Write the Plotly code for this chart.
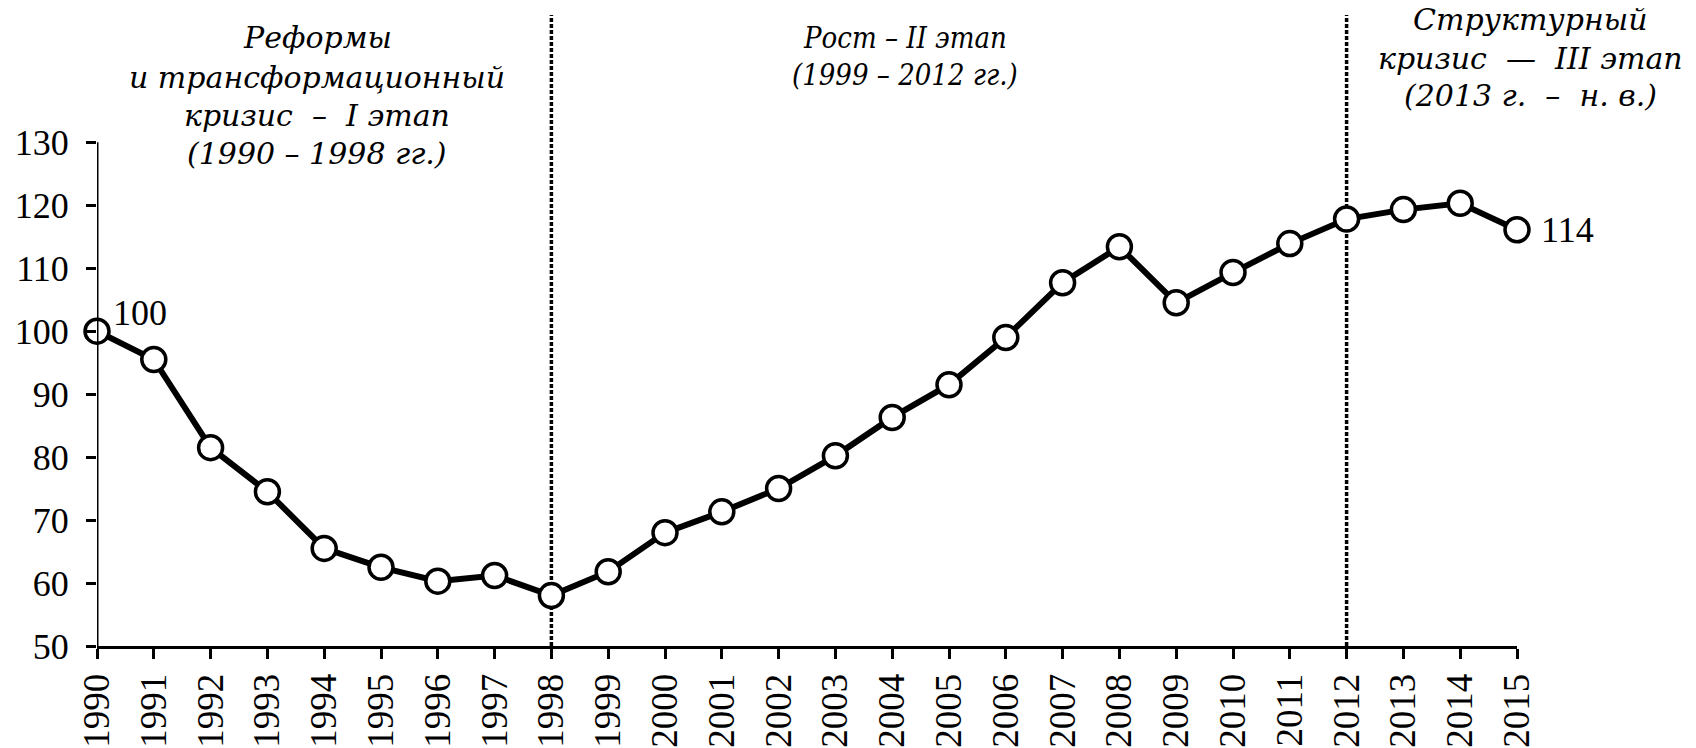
import plotly.graph_objects as go

years = list(range(1990, 2016))
values = [100, 95.5, 81.5, 74.5, 65.5, 62.5, 60.3, 61.2, 58.0, 61.8,
          68.0, 71.3, 75.0, 80.2, 86.3, 91.5, 99.0, 107.7, 113.4, 104.5,
          109.3, 113.9, 117.8, 119.3, 120.3, 116.1]
year_labels = [str(y) for y in years]
y_ticks = [50, 60, 70, 80, 90, 100, 110, 120, 130]
stage_bounds = [1998, 2012]
label_first = "100"
label_last = "114"

stage1 = ["Реформы", "и трансформационный", "кризис  –  I этап", "(1990 – 1998 гг.)"]
stage2 = ["Рост – II этап", "(1999 – 2012 гг.)"]
stage3 = ["Структурный", "кризис  —  III этап", "(2013 г.  –  н. в.)"]

# page geometry (pixels)
W, H = 1696, 748
L, R, T, B = 97, 179, 0, 94
PW, PH = W - L - R, H - T - B
Y130_PIX = 144  # pixel row of the 130 tick


def px(xpix):
    return (xpix - L) / PW


def py(ypix):
    return (H - B - ypix) / PH


fig = go.Figure()
fig.add_trace(go.Scatter(
    x=years, y=values, mode="lines+markers",
    line=dict(color="black", width=6),
    marker=dict(symbol="circle", size=24, color="white",
                line=dict(color="black", width=3.5)),
    cliponaxis=False, showlegend=False, hoverinfo="x+y"))

for b in stage_bounds:
    fig.add_shape(type="line", xref="x", yref="y", x0=b, x1=b, y0=50, y1=150.2,
                  line=dict(color="black", width=3.5, dash="4px,2px"), layer="below")

fig.add_shape(type="line", xref="x", yref="y", x0=1990, x1=1990, y0=50, y1=130,
              line=dict(color="black", width=3))

tick_font = dict(family="Liberation Serif", size=36, color="black")
xtick_font = dict(family="Liberation Serif", size=37, color="black")
ital1 = dict(family="DejaVu Serif", size=30, color="black", style="italic")
ital2 = dict(family="DejaVu Serif Condensed", size=29, color="black", style="italic")
ital3 = dict(family="DejaVu Serif", size=30, color="black", style="italic")


def block(lines, xc, ys, font):
    for t, yy in zip(lines, ys):
        fig.add_annotation(x=px(xc), y=py(yy), xref="paper", yref="paper", text=t,
                           showarrow=False, xanchor="center", yanchor="middle", font=font)


block(stage1, 317, [38, 78, 117, 155], ital1)
block(stage2, 905, [38, 76], ital2)
block(stage3, 1530, [20, 59, 97], ital3)

fig.add_annotation(x=years[0], y=values[0], text=label_first, showarrow=False,
                   xanchor="left", yanchor="middle", xshift=14, yshift=18, font=tick_font)
fig.add_annotation(x=years[-1], y=values[-1], text=label_last, showarrow=False,
                   xanchor="left", yanchor="middle", xshift=22, yshift=0, font=tick_font)

y_top = 50 + (H - B - T) / ((H - B - Y130_PIX) / 80)

fig.update_layout(
    width=W, height=H,
    margin=dict(l=L, r=R, t=T, b=B, pad=0),
    paper_bgcolor="white", plot_bgcolor="white",
    xaxis=dict(range=[1990, 2015], tickvals=years, ticktext=year_labels,
               tickangle=-90, ticks="outside", ticklen=10, tickwidth=2.5,
               tickcolor="black", showline=True, linecolor="black", linewidth=3,
               showgrid=False, zeroline=False, tickfont=xtick_font, ticklabelstandoff=0),
    yaxis=dict(range=[50, y_top], tickvals=y_ticks,
               ticks="outside", ticklen=10, tickwidth=2.5, tickcolor="black",
               showline=False, showgrid=False, zeroline=False, tickfont=tick_font,
               ticklabelstandoff=10),
)

fig.write_html("out.html", config={"displayModeBar": False},
               post_script="document.body.style.margin='0px';")
